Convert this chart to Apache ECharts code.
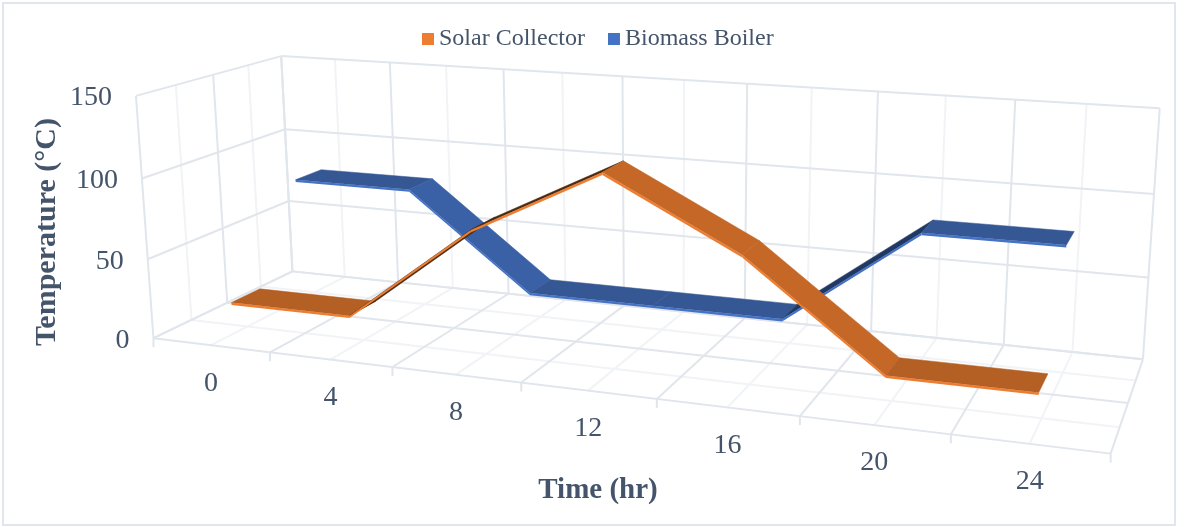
<!DOCTYPE html>
<html>
<head>
<meta charset="utf-8">
<style>
html, body { margin: 0; padding: 0; background: #fff; }
#chart { width: 1186px; height: 527px; }
</style>
<script src="https://cdn.jsdelivr.net/npm/echarts@6/dist/echarts.min.js"></script>
</head>
<body>
<div id="chart"></div>
<script>
const hours = ['0', '4', '8', '12', '16', '20', '24'];
const tempTicks = [0, 50, 100, 150];
const solar = [20, 20, 80, 120, 80, 20, 20];
const biomass = [80, 80, 20, 20, 20, 80, 80];

// camera fitted to the reference: (u, v, d) in 0..1 -> pixels. d = 0 back wall, d = 1 front edge
const P = [680.792978, -19.430009, -156.859227, 292.438786, 34.628576, -216.909998, 27.430634, 271.37841, -0.148477, -0.029088, -0.116477];
function project(u, v, d) {
    const w = P[8] * u + P[9] * v + P[10] * d + 1;
    return [(P[0] * u + P[1] * v + P[2] * d + P[3]) / w, (P[4] * u + P[5] * v + P[6] * d + P[7]) / w];
}

const FONT = '"Liberation Serif", "Times New Roman", serif';
const TEXT = '#44546A';
const DARK = '#E1E5EC';
const LIGHT = '#F1F3F6';
const THICK = 1.5 / 150;

function seg(a, b, color) {
    return {
        type: 'line',
        shape: { x1: a[0], y1: a[1], x2: b[0], y2: b[1] },
        style: { stroke: color, lineWidth: 2 }
    };
}
function label(text, x, y, size, extra) {
    return Object.assign({
        type: 'text',
        x: x,
        y: y,
        style: { text: text, fontFamily: FONT, fontSize: size, fill: TEXT, align: 'center', verticalAlign: 'middle' }
    }, extra);
}

// walls, floor, ticks and axis texts
function renderFrame(params, api) {
    const g = params.coordSys;
    const n = hours.length;
    const ticksV = tempTicks.map(t => (g.y + g.height - api.coord([0, t])[1]) / g.height);
    const items = [];
    items.push({
        type: 'rect',
        shape: { x: 3, y: 3, width: 1172, height: 522 },
        style: { fill: '#fff', stroke: DARK, lineWidth: 2 }
    });
    // lighter lines through the middle of each slot
    for (let i = 0; i < n; i++) {
        const u = (i + 0.5) / n;
        items.push(seg(project(u, 0, 0), project(u, 1, 0), LIGHT));
        items.push(seg(project(u, 0, 0), project(u, 0, 1), LIGHT));
    }
    [0.25, 0.75].forEach(d => {
        items.push(seg(project(0, 0, d), project(0, 1, d), LIGHT));
        items.push(seg(project(0, 0, d), project(1, 0, d), LIGHT));
    });
    for (let i = 0; i <= n; i++) {
        const u = i / n;
        const front = project(u, 0, 1);
        items.push(seg(project(u, 0, 0), project(u, 1, 0), DARK));
        items.push(seg(project(u, 0, 0), front, DARK));
        items.push(seg(front, [front[0], front[1] + 9], DARK));
    }
    [0, 0.5, 1].forEach(d => {
        items.push(seg(project(0, 0, d), project(0, 1, d), DARK));
        items.push(seg(project(0, 0, d), project(1, 0, d), DARK));
    });
    ticksV.forEach((v, i) => {
        const front = project(0, v, 1);
        items.push(seg(front, project(0, v, 0), DARK));
        items.push(seg(project(0, v, 0), project(1, v, 0), DARK));
        items.push(label(String(tempTicks[i]), front[0] - 24, front[1] + 2, 28, {}));
        items[items.length - 1].style.align = 'right';
    });
    hours.forEach((h, i) => {
        const p = project((i + 0.5) / n, 0, 1);
        items.push(label(h, p[0], p[1] + 38, 28, {}));
    });
    const yTitle = label('Temperature (°C)', 47, 232, 30, { rotation: Math.PI / 2 });
    yTitle.style.fontWeight = 'bold';
    const xTitle = label('Time (hr)', 598, 491, 29, {});
    xTitle.style.fontWeight = 'bold';
    items.push(yTitle, xTitle);
    return { type: 'group', children: items };
}

// one ribbon segment between two neighbouring points
function ribbon(d1, d2, colors) {
    return function (params, api) {
        const g = params.coordSys;
        const a = api.coord([api.value(0), api.value(1)]);
        const b = api.coord([api.value(2), api.value(3)]);
        const ua = (a[0] - g.x) / g.width, va = (g.y + g.height - a[1]) / g.height;
        const ub = (b[0] - g.x) / g.width, vb = (g.y + g.height - b[1]) / g.height;
        const slope = vb - va;
        const top = slope > 0 ? colors.rise : slope < 0 ? colors.fall : colors.flat;
        return {
            type: 'group',
            children: [{
                type: 'polygon',
                shape: { points: [project(ua, va, d1), project(ub, vb, d1), project(ub, vb, d2), project(ua, va, d2)] },
                style: { fill: top, stroke: top, lineWidth: 0.5 }
            }, {
                type: 'polygon',
                shape: { points: [project(ua, va, d2), project(ub, vb, d2), project(ub, vb - THICK, d2), project(ua, va - THICK, d2)] },
                style: { fill: colors.edge }
            }]
        };
    };
}
function segments(values) {
    return values.slice(0, -1).map((v, i) => [i, v, i + 1, values[i + 1]]);
}

const chart = echarts.init(document.getElementById('chart'));
chart.setOption({
    animation: false,
    backgroundColor: '#fff',
    grid: { left: 100, right: 100, top: 100, bottom: 100 },
    xAxis: { type: 'category', data: hours, show: false },
    yAxis: { type: 'value', min: 0, max: 150, interval: 50, show: false },
    legend: {
        data: ['Solar Collector', 'Biomass Boiler'],
        left: 422,
        top: 27,
        padding: 0,
        icon: 'rect',
        itemWidth: 12,
        itemHeight: 12,
        itemGap: 23,
        textStyle: { fontFamily: FONT, fontSize: 24, color: TEXT }
    },
    series: [{
        type: 'custom',
        name: 'frame',
        data: [[0, 0]],
        renderItem: renderFrame,
        clip: false,
        silent: true,
        z: 1
    }, {
        type: 'custom',
        name: 'Biomass Boiler',
        data: segments(biomass),
        encode: { x: [0, 2], y: [1, 3] },
        renderItem: ribbon(0.15, 0.35, { flat: '#355794', fall: '#3A60A6', rise: '#203864', edge: '#4472C4' }),
        itemStyle: { color: '#4472C4' },
        clip: false,
        z: 2
    }, {
        type: 'custom',
        name: 'Solar Collector',
        data: segments(solar),
        encode: { x: [0, 2], y: [1, 3] },
        renderItem: ribbon(0.65, 0.85, { flat: '#B45F23', fall: '#C56727', rise: '#4A2A10', edge: '#ED7D31' }),
        itemStyle: { color: '#ED7D31' },
        clip: false,
        z: 3
    }]
});
</script>
</body>
</html>
